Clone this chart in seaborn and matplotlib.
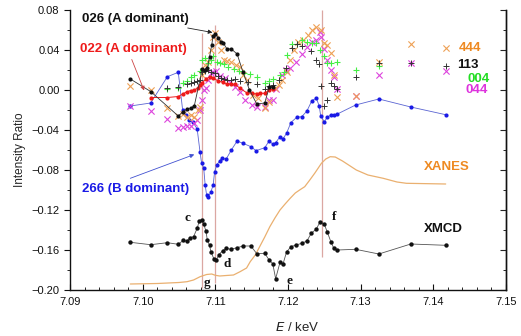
import matplotlib
matplotlib.use("Agg")
import matplotlib.pyplot as plt
import seaborn as sns
import numpy as np
import pandas as pd

# ---------------- data ----------------
s026_x = [7.0983, 7.1011, 7.1049, 7.1055, 7.1061, 7.1066, 7.1071, 7.1082, 7.1086, 7.1089,
          7.1092, 7.1095, 7.1097, 7.1100, 7.1104, 7.1108, 7.1111, 7.1116, 7.1122, 7.1130,
          7.1138, 7.1147, 7.1157, 7.1168, 7.1174, 7.1179]
s026_y = [0.011, -0.0015, -0.026, -0.022, -0.019, -0.018, -0.016, 0.021, 0.020, 0.022,
          0.033, 0.045, 0.054, 0.056, 0.052, 0.048, 0.047, 0.041, 0.041, 0.036,
          0.018, 0.000, -0.014, -0.013, 0.0027, 0.0027]

s022_x = [7.1011, 7.1034, 7.1049, 7.1055, 7.1061, 7.1066, 7.1071, 7.1076, 7.1079, 7.1082,
          7.1087, 7.1092, 7.1097, 7.1103, 7.1110, 7.1116, 7.1121, 7.1127, 7.1134, 7.1143,
          7.1150, 7.1157, 7.1162, 7.1168, 7.1174, 7.1179]
s022_y = [-0.0075, -0.0075, -0.0065, -0.004, -0.0017, -0.0005, 0.000, 0.002, 0.005, 0.007,
          0.011, 0.013, 0.0123, 0.0093, 0.0077, 0.0057, 0.006, 0.0057, 0.0017, -0.0027,
          -0.0033, -0.004, -0.0033, -0.0033, 0.000, 0.0007]

s266_x = [7.0983, 7.1011, 7.1034, 7.1049, 7.1055, 7.1059, 7.1064, 7.1069, 7.1075, 7.1079,
          7.1081, 7.1084, 7.1086, 7.1088, 7.1090, 7.1094, 7.1097, 7.1099, 7.1102, 7.1106,
          7.1109, 7.1115, 7.1122, 7.1130, 7.1138, 7.1149, 7.1156, 7.1168, 7.1174, 7.1179,
          7.1183, 7.1189, 7.1193, 7.1198, 7.1204, 7.1212, 7.1219, 7.1226, 7.1233, 7.1239,
          7.1243, 7.1245, 7.1250, 7.1254, 7.1259, 7.1263, 7.1268, 7.1293, 7.1325, 7.1369,
          7.1417]
s266_y = [-0.016, -0.013, 0.0133, 0.0177, -0.020, -0.025, -0.030, -0.032, -0.039, -0.0623,
          -0.0727, -0.078, -0.095, -0.105, -0.1073, -0.1017, -0.095, -0.0817, -0.075, -0.0707,
          -0.0683, -0.069, -0.060, -0.051, -0.0533, -0.0567, -0.0607, -0.0577, -0.051, -0.054,
          -0.0527, -0.0467, -0.049, -0.0433, -0.0325, -0.0273, -0.0267, -0.021, -0.0105, -0.0083,
          -0.016, -0.026, -0.0317, -0.0273, -0.025, -0.025, -0.024, -0.015, -0.009, -0.017,
          -0.0247]

s004_x = [7.1034, 7.1049, 7.1055, 7.1061, 7.1066, 7.1071, 7.1079, 7.1082, 7.1086, 7.1090,
          7.1094, 7.1097, 7.1102, 7.1106, 7.1112, 7.1118, 7.1125, 7.1132, 7.1140, 7.1148,
          7.1157, 7.1168, 7.1174, 7.1179, 7.1189, 7.1194, 7.1198, 7.1205, 7.1212, 7.1219,
          7.1226, 7.1233, 7.1239, 7.1244, 7.1250, 7.1254, 7.1259, 7.1268, 7.1293, 7.1325]
s004_y = [0.001, 0.002, 0.0067, 0.009, 0.013, 0.015, 0.019, 0.030, 0.032, 0.027,
          0.030, 0.034, 0.028, 0.027, 0.026, 0.023, 0.021, 0.019, 0.017, 0.016,
          0.0127, 0.0067, 0.009, 0.011, 0.015, 0.018, 0.035, 0.0457, 0.0457, 0.050,
          0.048, 0.047, 0.0467, 0.040, 0.034, 0.0267, 0.0267, 0.028, 0.020, 0.0243]

s113_x = [7.1034, 7.1049, 7.1061, 7.1066, 7.1071, 7.1075, 7.1079, 7.1082, 7.1086, 7.1090,
          7.1094, 7.1100, 7.1104, 7.1108, 7.1112, 7.1116, 7.1121, 7.1127, 7.1134, 7.1145,
          7.1157, 7.1168, 7.1174, 7.1179, 7.1188, 7.1197, 7.1205, 7.1212, 7.1219, 7.1232,
          7.1239, 7.1243, 7.1245, 7.1250, 7.1254, 7.1259, 7.1263, 7.1268, 7.1293, 7.1325,
          7.1369, 7.1417]
s113_y = [0.002, 0.003, 0.006, 0.007, 0.008, 0.009, 0.010, 0.018, 0.019, 0.020,
          0.018, 0.017, 0.014, 0.012, 0.011, 0.010, 0.010, 0.011, 0.009, 0.008,
          0.006, 0.0007, 0.004, 0.005, 0.010, 0.022, 0.042, 0.0457, 0.044, 0.039,
          0.030, 0.0257, 0.004, -0.016, -0.010, 0.0067, 0.004, 0.0007, 0.0127, 0.0267,
          0.0267, 0.0243]

s444_x = [7.0983, 7.1011, 7.1034, 7.1049, 7.1055, 7.1061, 7.1066, 7.1071, 7.1076, 7.1079,
          7.1082, 7.1086, 7.1090, 7.1094, 7.1097, 7.1100, 7.1104, 7.1108, 7.1112, 7.1116,
          7.1122, 7.1129, 7.1134, 7.1138, 7.1143, 7.1152, 7.1159, 7.1168, 7.1174, 7.1182,
          7.1187, 7.1192, 7.1198, 7.1203, 7.1208, 7.1214, 7.1221, 7.1228, 7.1233, 7.1239,
          7.1245, 7.1250, 7.1254, 7.1259, 7.1263, 7.1268, 7.1293, 7.1325, 7.1369, 7.1417]
s444_y = [0.004, 0.000, -0.018, -0.026, -0.024, -0.027, -0.025, -0.027, -0.020, -0.017,
          0.015, 0.025, 0.028, 0.040, 0.053, 0.0567, 0.048, 0.040, 0.030, 0.029,
          0.0283, 0.025, 0.0233, 0.015, 0.010, -0.005, -0.0083, -0.0183, -0.0117, 0.0017,
          0.005, 0.010, 0.0183, 0.030, 0.040, 0.0483, 0.050, 0.055, 0.060, 0.0633,
          0.060, 0.0467, 0.045, 0.0367, 0.015, -0.0067, -0.006, 0.0277, 0.0457, 0.0417]

s044_x = [7.0983, 7.1011, 7.1034, 7.1049, 7.1055, 7.1061, 7.1066, 7.1071, 7.1075, 7.1079,
          7.1082, 7.1084, 7.1087, 7.1090, 7.1094, 7.1097, 7.1101, 7.1106, 7.1113, 7.1120,
          7.1127, 7.1134, 7.1141, 7.1150, 7.1157, 7.1168, 7.1174, 7.1179, 7.1184, 7.1192,
          7.1197, 7.1203, 7.1211, 7.1219, 7.1226, 7.1233, 7.1239, 7.1244, 7.1245, 7.1249,
          7.1254, 7.1259, 7.1263, 7.1268, 7.1293, 7.1325, 7.1369, 7.1417]
s044_y = [-0.016, -0.021, -0.029, -0.038, -0.037, -0.036, -0.036, -0.033, -0.030, -0.020,
          -0.010, 0.000, 0.002, 0.010, 0.017, 0.0183, 0.019, 0.014, 0.0123, 0.008,
          0.0033, -0.0017, -0.010, -0.015, -0.0173, -0.0173, -0.010, -0.010, 0.0007, 0.015,
          0.020, 0.0217, 0.0283, 0.036, 0.0433, 0.0483, 0.050, 0.0583, 0.0533, 0.0407,
          0.030, 0.020, 0.0133, 0.0007, -0.006, 0.015, 0.0267, 0.019]

xmcd_x = [7.0983, 7.1011, 7.1034, 7.1049, 7.1056, 7.1061, 7.1065, 7.1070, 7.1075, 7.1078,
          7.1081, 7.1084, 7.1087, 7.1089, 7.1092, 7.1094, 7.1098, 7.1101, 7.1105, 7.1110,
          7.1115, 7.1121, 7.1130, 7.1138, 7.1149, 7.1157, 7.1168, 7.1174, 7.1179, 7.1183,
          7.1189, 7.1193, 7.1198, 7.1204, 7.1211, 7.1219, 7.1226, 7.1232, 7.1239, 7.1244,
          7.1250, 7.1254, 7.1259, 7.1263, 7.1268, 7.1293, 7.1325, 7.1369, 7.1417]
xmcd_y = [-0.1523, -0.1547, -0.1527, -0.1543, -0.1503, -0.1513, -0.1477, -0.1467, -0.1383, -0.1307,
          -0.1297, -0.134, -0.141, -0.150, -0.1553, -0.1617, -0.169, -0.1703, -0.1647, -0.1607,
          -0.1583, -0.1593, -0.1577, -0.156, -0.156, -0.1637, -0.1633, -0.170, -0.1737, -0.1887,
          -0.1723, -0.1743, -0.162, -0.1567, -0.155, -0.1533, -0.151, -0.1433, -0.139, -0.132,
          -0.1343, -0.142, -0.1517, -0.1583, -0.160, -0.1593, -0.164, -0.154, -0.1553]

xanes_x = [7.0983, 7.1020, 7.1050, 7.1061, 7.1070, 7.1079, 7.1088, 7.1095, 7.1100, 7.1106,
           7.1115, 7.1125, 7.1134, 7.1143, 7.1148, 7.1155, 7.1161, 7.1168, 7.1175, 7.1182,
           7.1189, 7.1196, 7.1203, 7.1210, 7.1216, 7.1223, 7.1230, 7.1237, 7.1246, 7.1252,
           7.1258, 7.1265, 7.1275, 7.1294, 7.1310, 7.1331, 7.1350, 7.1363, 7.1417]
xanes_y = [-0.194, -0.1935, -0.1925, -0.1917, -0.190, -0.1867, -0.1845, -0.184, -0.1853, -0.186,
           -0.1855, -0.185, -0.1817, -0.178, -0.1717, -0.165, -0.1567, -0.147, -0.1367, -0.128,
           -0.120, -0.114, -0.1083, -0.103, -0.100, -0.0967, -0.090, -0.083, -0.0733, -0.069,
           -0.0667, -0.067, -0.071, -0.080, -0.085, -0.0883, -0.092, -0.0933, -0.094]

vline_x = [7.1082, 7.1100, 7.1247]
vline_top = [0.057, 0.065, 0.080]
vline_bottom = [-0.198, -0.193, -0.167]

x_ticks = [7.09, 7.10, 7.11, 7.12, 7.13, 7.14, 7.15]
y_ticks = [-0.20, -0.16, -0.12, -0.08, -0.04, 0.00, 0.04, 0.08]

# ---------------- style ----------------
sns.set_style("ticks")
plt.rcParams['font.family'] = ['Liberation Sans', 'DejaVu Sans']
plt.rcParams['axes.unicode_minus'] = True

fig = plt.figure(figsize=(5.21, 3.36), dpi=100)
ax = fig.add_axes([70/521, 1-290/336, (506-70)/521, 280/336])

C_BLACK = '#111111'
C_RED = '#ee1a1a'
C_BLUE = '#1a1ae6'
C_BLUE_LINE = '#5a64d2'
C_GREEN = '#44ee44'
C_MAG = '#dd44dd'
C_ORANGE = '#eea055'
C_XANES = '#eab070'
C_VLINE = '#dba7a2'

# vertical guide lines
ax.vlines(vline_x, vline_bottom, vline_top, colors=C_VLINE, lw=0.9, zorder=1)

# XANES
sns.lineplot(x=xanes_x, y=xanes_y, ax=ax, color=C_XANES, lw=0.9, sort=False,
             estimator=None, zorder=2)

# XMCD
sns.lineplot(x=xmcd_x, y=xmcd_y, ax=ax, color='#555555', lw=0.6, sort=False,
             estimator=None, zorder=3)
sns.scatterplot(x=xmcd_x, y=xmcd_y, ax=ax, color=C_BLACK, s=10, linewidth=0, zorder=4)

# 266 blue
sns.lineplot(x=s266_x, y=s266_y, ax=ax, color=C_BLUE_LINE, lw=0.6, sort=False,
             estimator=None, zorder=3)
sns.scatterplot(x=s266_x, y=s266_y, ax=ax, color=C_BLUE, s=9, linewidth=0, zorder=4)

# crosses and plus markers
sns.scatterplot(x=s044_x, y=s044_y, ax=ax, marker='x', color=C_MAG, s=20,
                linewidth=0.8, zorder=5)
sns.scatterplot(x=s444_x, y=s444_y, ax=ax, marker='x', color=C_ORANGE, s=20,
                linewidth=0.8, zorder=5)
sns.scatterplot(x=s004_x, y=s004_y, ax=ax, marker='+', color=C_GREEN, s=24,
                linewidth=0.8, zorder=5)
sns.scatterplot(x=s113_x, y=s113_y, ax=ax, marker='+', color='#333333', s=24,
                linewidth=0.7, zorder=5)

# 022 red
sns.lineplot(x=s022_x, y=s022_y, ax=ax, color=C_RED, lw=0.7, sort=False,
             estimator=None, zorder=6)
sns.scatterplot(x=s022_x, y=s022_y, ax=ax, color=C_RED, s=9, linewidth=0, zorder=6)

# 026 black
sns.lineplot(x=s026_x, y=s026_y, ax=ax, color='#333333', lw=0.6, sort=False,
             estimator=None, zorder=6)
sns.scatterplot(x=s026_x, y=s026_y, ax=ax, color=C_BLACK, s=9, linewidth=0, zorder=7)

# ---------------- axes ----------------
ax.set_xlim(7.09, 7.15)
ax.set_ylim(-0.20, 0.08)
ax.set_xticks(x_ticks)
ax.set_xticklabels([f"{v:.2f}" for v in x_ticks])
ax.set_yticks(y_ticks)
ax.set_yticklabels([f"{v:.2f}".replace('-', '\u2212') for v in y_ticks])
ax.set_xticks(np.arange(7.09, 7.1501, 0.002), minor=True)
ax.set_yticks(np.arange(-0.20, 0.0801, 0.02), minor=True)
ax.tick_params(axis='both', labelsize=8, colors='#111111')
ax.tick_params(axis='y', which='major', direction='out', length=4, width=0.8, left=True, right=False)
ax.tick_params(axis='y', which='minor', direction='out', length=2.5, width=0.7, left=True, right=False)
ax.tick_params(axis='x', which='major', direction='in', length=4, width=0.8, top=False, pad=5)
ax.tick_params(axis='x', which='minor', direction='in', length=2.5, width=0.7, top=False)
ax.spines['top'].set_visible(False)
for sp in ['left', 'bottom', 'right']:
    ax.spines[sp].set_visible(True)
    ax.spines[sp].set_linewidth(1.0)
    ax.spines[sp].set_color('#111111')

# right spine inward ticks (no labels)
rax = ax.secondary_yaxis('right')
rax.set_yticks(y_ticks)
rax.set_yticks(np.arange(-0.20, 0.0801, 0.02), minor=True)
rax.tick_params(which='major', direction='in', length=4, width=0.8, labelright=False)
rax.tick_params(which='minor', direction='in', length=2.5, width=0.7, labelright=False)
rax.spines['right'].set_linewidth(1.0)

ax.set_ylabel("Intensity Ratio", fontsize=8.5, labelpad=4)
ax.set_xlabel("$E$ / keV", fontsize=9.5, labelpad=9)
ax.xaxis.set_label_coords(0.52, -0.11)

# ---------------- annotations ----------------
bold = dict(fontsize=9.5, fontweight='bold')
ax.text(7.0916, 0.071, "026 (A dominant)", color=C_BLACK, va='center', ha='left', **bold)
ax.annotate("", xy=(7.1096, 0.0575), xytext=(7.1062, 0.062),
            arrowprops=dict(arrowstyle='-|>', color='#222222', lw=0.6, mutation_scale=6,
                            shrinkA=0, shrinkB=0), zorder=8)
ax.text(7.0914, 0.0407, "022 (A dominant)", color=C_RED, va='center', ha='left', **bold)
ax.annotate("", xy=(7.1002, -0.0005), xytext=(7.0985, 0.0305),
            arrowprops=dict(arrowstyle='-|>', color='#cc4444', lw=0.6, mutation_scale=6,
                            shrinkA=0, shrinkB=0), zorder=8)
ax.text(7.0917, -0.0993, "266 (B dominant)", color=C_BLUE, va='center', ha='left', **bold)
ax.annotate("", xy=(7.1071, -0.0645), xytext=(7.0983, -0.0883),
            arrowprops=dict(arrowstyle='-|>', color='#4050d0', lw=0.6, mutation_scale=6,
                            shrinkA=0, shrinkB=0), zorder=8)

ax.text(7.1450, 0.0423, "444", color='#ee8a22', ha='center', va='center', **bold)
ax.text(7.1448, 0.0250, "113", color=C_BLACK, ha='center', va='center', **bold)
ax.text(7.1462, 0.0110, "004", color='#22dd22', ha='center', va='center', **bold)
ax.text(7.1460, 0.0000, "044", color='#dd33dd', ha='center', va='center', **bold)

ax.text(7.1419, -0.0773, "XANES", color='#ee8a22', ha='center', va='center', **bold)
ax.text(7.1414, -0.139, "XMCD", color=C_BLACK, ha='center', va='center', **bold)

serif = dict(fontsize=9.5, fontweight='bold', family=['Liberation Serif', 'DejaVu Serif'],
             color=C_BLACK, ha='center', va='center')
ax.text(7.1062, -0.128, "c", **serif)
ax.text(7.1116, -0.174, "d", **serif)
ax.text(7.1202, -0.191, "e", **serif)
ax.text(7.1264, -0.127, "f", **serif)
ax.text(7.1089, -0.193, "g", **serif)

fig.savefig("out.png", dpi=100)
